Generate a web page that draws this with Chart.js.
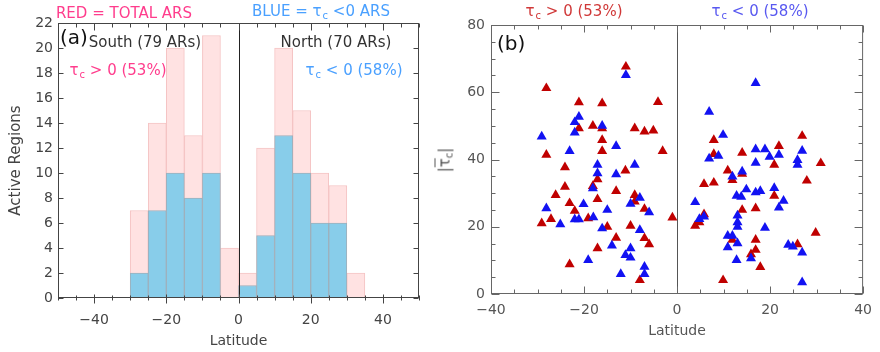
<!DOCTYPE html>
<html lang="en">
<head>
<meta charset="UTF-8">
<title>Twist of active regions vs latitude</title>
<script src="https://cdn.jsdelivr.net/npm/chart.js"></script>
<style>
    body {
        margin: 0;
        background: #ffffff;
        font-family: 'DejaVu Sans', sans-serif;
    }
    .wrap {
        position: relative;
        width: 880px;
        height: 352px;
    }
    canvas {
        position: absolute;
        top: 0;
    }
    #histChart { left: 0; }
    #scatterChart { left: 440px; }
    .note {
        position: absolute;
        white-space: nowrap;
        font-size: 15px;
        line-height: 18px;
        color: #333;
        transform: translate(-50%, -50%);
    }
    .note sub {
        font-size: 10px;
        vertical-align: -3px;
        margin-left: 1px;
    }
    .tag {
        position: absolute;
        font-size: 20px;
        line-height: 22px;
        color: #111;
        transform: translateY(-50%);
    }
    .pink { color: #ff3c8c; }
    .sky { color: #4aa0ff; }
    .red { color: #d03838; }
    .blue { color: #5858f0; }
    .ytitle {
        position: absolute;
        left: 447px;
        top: 160px;
        font-size: 15px;
        line-height: 18px;
        color: #555;
        white-space: nowrap;
        transform: translate(-50%, -50%) rotate(-90deg);
    }
    .ytitle sub {
        font-size: 10px;
        vertical-align: -3px;
    }
</style>
</head>
<body>
<div class="wrap">
    <canvas id="histChart" width="440" height="352"></canvas>
    <canvas id="scatterChart" width="440" height="352"></canvas>

    <div class="note pink" style="left:124px; top:13px;">RED = TOTAL ARS</div>
    <div class="note sky" style="left:321px; top:13px;">BLUE = &tau;<sub>c</sub> &lt;0 ARS</div>
    <div class="tag" style="left:60px; top:37px;">(a)</div>
    <div class="note" style="left:145px; top:42px;">South (79 ARs)</div>
    <div class="note" style="left:336px; top:42px;">North (70 ARs)</div>
    <div class="note pink" style="left:118px; top:72px;">&tau;<sub>c</sub> &gt; 0 (53%)</div>
    <div class="note sky" style="left:354px; top:72px;">&tau;<sub>c</sub> &lt; 0 (58%)</div>

    <div class="note red" style="left:574px; top:13px;">&tau;<sub>c</sub> &gt; 0 (53%)</div>
    <div class="note blue" style="left:760px; top:13px;">&tau;<sub>c</sub> &lt; 0 (58%)</div>
    <div class="tag" style="left:497px; top:43px;">(b)</div>
    <div class="ytitle">|<span style="text-decoration: overline;">&tau;</span><sub>c</sub>|</div>
</div>

<script>
    // (a) histogram, 5 degree bins
    const binCenters = [-27.5, -22.5, -17.5, -12.5, -7.5, -2.5, 2.5, 7.5, 12.5, 17.5, 22.5, 27.5, 32.5];
    const totalCounts = [7, 14, 20, 13, 21, 4, 2, 12, 20, 15, 10, 9, 2];
    const negTwistCounts = [2, 7, 10, 8, 10, 0, 1, 5, 13, 10, 6, 6, 0];
    const histXTicks = [-40, -20, 0, 20, 40];
    const histYTicks = [0, 2, 4, 6, 8, 10, 12, 14, 16, 18, 20, 22];

    // (b) |tau_c| per active region
    const posTwistLat = [-11.0, -28.1, -21.1, -16.1, -4.1, -21.1, -18.1, -16.1, -9.1, -7.0,
        -5.1, -16.1, -28.1, -16.1, -3.1, -24.1, -11.1, -17.1, -24.1, -18.1,
        -13.1, -26.1, -9.1, -23.1, -17.1, -9.1, -22.0, -7.0, -1.0, -29.1,
        -27.1, -19.1, -15.0, -10.0, -13.1, -7.0, -6.0, -17.1, -23.1, -8.0,
        7.9, 26.9, 7.9, 14.0, 21.9, 20.9, 30.9, 10.9, 11.9, 14.0,
        5.8, 7.9, 27.9, 20.9, 16.9, 14.0, 5.8, 3.9, 4.8, 11.9,
        16.9, 16.9, 15.9, 25.9, 29.8, 17.9, 9.9];
    const posTwistVal = [67.6, 61.2, 57.0, 56.7, 57.1, 49.3, 50.0, 49.3, 49.3, 48.3,
        48.6, 45.8, 41.4, 42.5, 42.5, 37.7, 36.7, 34.1, 31.9, 32.1,
        30.6, 29.4, 29.4, 27.0, 28.2, 27.5, 24.7, 25.3, 22.7, 21.0,
        22.3, 22.5, 20.0, 20.3, 16.7, 16.6, 14.8, 13.6, 8.8, 4.1,
        45.8, 47.0, 41.6, 42.0, 44.0, 38.4, 38.9, 36.7, 33.9, 35.7,
        32.7, 33.1, 33.7, 29.2, 25.5, 25.0, 23.7, 20.3, 21.3, 16.1,
        16.1, 13.1, 11.8, 14.8, 18.2, 8.0, 4.1];
    const negTwistLat = [-11.0, -21.1, -22.0, -16.1, -29.1, -22.0, -23.1, -13.1, -17.1, -17.1,
        -9.1, -13.1, -18.1, -8.0, -10.0, -28.1, -20.1, -15.0, -6.0, -25.1,
        -22.0, -21.1, -18.0, -16.1, -8.0, -14.0, -10.0, -11.1, -10.0, -19.1,
        -7.0, -7.0, -12.1,
        16.9, 6.9, 9.9, 6.9, 8.9, 16.9, 18.9, 19.9, 21.9, 26.9,
        25.9, 25.9, 16.9, 14.0, 11.9, 14.9, 16.9, 17.9, 20.9, 12.8,
        13.8, 3.9, 22.9, 21.9, 4.8, 5.8, 13.0, 13.0, 13.0, 18.9,
        10.9, 11.9, 13.0, 10.9, 23.9, 24.9, 26.9, 12.8, 15.9, 26.9];
    const negTwistVal = [65.1, 52.7, 51.1, 50.0, 46.8, 48.0, 42.5, 44.0, 38.4, 35.9,
        38.4, 35.6, 31.4, 28.6, 26.8, 25.5, 26.7, 25.0, 24.3, 20.7,
        22.2, 22.2, 22.8, 19.5, 19.0, 14.4, 13.6, 11.6, 10.8, 10.1,
        8.1, 5.9, 5.9,
        62.7, 54.2, 47.3, 40.3, 41.1, 43.0, 43.0, 40.8, 41.4, 42.6,
        39.8, 38.4, 39.0, 36.4, 34.9, 31.1, 30.2, 30.6, 31.5, 29.2,
        28.9, 27.3, 27.7, 25.7, 22.3, 23.0, 23.3, 21.3, 20.0, 19.7,
        17.3, 17.3, 15.1, 13.9, 14.6, 14.1, 12.3, 10.1, 10.6, 3.5];
    const scatterXTicks = [-40, -20, 0, 20, 40];
    const scatterYTicks = [0, 20, 40, 60, 80];

    const minusSign = v => String(v).replace('-', '\u2212');

    // box round the plot with inward ticks and the line at latitude 0
    function axesFrame(cfg) {
        return {
            id: 'axesFrame',
            afterDatasetsDraw(chart) {
                const { ctx, chartArea: a, scales: { x, y } } = chart;
                const L = a.left + 0.5, R = a.right - 0.5, T = a.top + 0.5, B = a.bottom - 0.5;
                ctx.save();
                ctx.lineWidth = 1;

                ctx.strokeStyle = cfg.zeroColor;
                const zx = Math.round(x.getPixelForValue(0)) + 0.5;
                ctx.beginPath();
                ctx.moveTo(zx, T);
                ctx.lineTo(zx, B);
                ctx.stroke();

                ctx.strokeStyle = cfg.color;
                ctx.strokeRect(L, T, R - L, B - T);
                ctx.beginPath();
                for (let v = x.min; v <= x.max; v += cfg.xStep) {
                    const px = Math.round(x.getPixelForValue(v)) + 0.5;
                    const major = v % cfg.xMajor === 0;
                    const len = major ? cfg.xMajorLen : cfg.xMinorLen;
                    ctx.moveTo(px, T);
                    ctx.lineTo(px, T + len);
                    ctx.moveTo(px, B - (major ? cfg.bottomInMajor : cfg.bottomInMinor));
                    ctx.lineTo(px, B + (major ? cfg.bottomOutMajor : cfg.bottomOutMinor));
                }
                for (let v = y.min; v <= y.max; v += cfg.yStep) {
                    const py = Math.round(y.getPixelForValue(v)) + 0.5;
                    const major = v % cfg.yMajor === 0;
                    const len = major ? cfg.yMajorLen : cfg.yMinorLen;
                    ctx.moveTo(L, py);
                    ctx.lineTo(L + len, py);
                    ctx.moveTo(R, py);
                    ctx.lineTo(R - len, py);
                }
                ctx.stroke();
                ctx.restore();
            }
        };
    }

    new Chart(document.getElementById('histChart'), {
        type: 'bar',
        data: {
            datasets: [
                {
                    label: 'tau_c < 0 ARs',
                    data: binCenters.map((c, i) => ({ x: c, y: negTwistCounts[i] })),
                    backgroundColor: '#88cdea',
                    borderColor: '#9eb0bc',
                    borderWidth: 1,
                    grouped: false,
                    barPercentage: 1,
                    categoryPercentage: 1,
                    order: 0
                },
                {
                    label: 'Total ARs',
                    data: binCenters.map((c, i) => ({ x: c, y: totalCounts[i] })),
                    backgroundColor: '#ffe2e2',
                    borderColor: '#f5c4c4',
                    borderWidth: 1,
                    grouped: false,
                    barPercentage: 1,
                    categoryPercentage: 1,
                    order: 1
                }
            ]
        },
        options: {
            responsive: false,
            animation: false,
            layout: { padding: { left: 0, top: 23, right: 21, bottom: 0 } },
            plugins: { legend: { display: false }, tooltip: { enabled: false } },
            scales: {
                x: {
                    type: 'linear',
                    min: -50,
                    max: 50,
                    offset: false,
                    grid: { display: false, drawTicks: false },
                    border: { display: false },
                    afterBuildTicks: s => { s.ticks = histXTicks.map(v => ({ value: v })); },
                    afterFit: s => { s.height = 54; },
                    ticks: { color: '#444', font: { family: 'DejaVu Sans', size: 14 }, padding: 14, maxRotation: 0, autoSkip: false, callback: minusSign },
                    title: { display: true, text: 'Latitude', color: '#444', font: { family: 'DejaVu Sans', size: 14 }, padding: { top: 0, bottom: 2 } }
                },
                y: {
                    min: 0,
                    max: 22,
                    grid: { display: false, drawTicks: false },
                    border: { display: false },
                    afterBuildTicks: s => { s.ticks = histYTicks.map(v => ({ value: v })); },
                    afterFit: s => { s.width = 58; },
                    ticks: { color: '#444', font: { family: 'DejaVu Sans', size: 14 }, padding: 5, autoSkip: false },
                    title: { display: true, text: 'Active Regions', color: '#444', font: { family: 'DejaVu Sans', size: 15 }, padding: { top: 7, bottom: 0 } }
                }
            }
        },
        plugins: [axesFrame({
            color: '#444', zeroColor: '#222',
            xStep: 5, xMajor: 20, xMinorLen: 4, xMajorLen: 7,
            bottomInMinor: 2, bottomInMajor: 3, bottomOutMinor: 3, bottomOutMajor: 6,
            yStep: 2, yMajor: 2, yMinorLen: 5, yMajorLen: 5
        })]
    });

    new Chart(document.getElementById('scatterChart'), {
        type: 'scatter',
        data: {
            datasets: [
                {
                    label: 'tau_c < 0',
                    data: negTwistLat.map((lat, i) => ({ x: lat, y: negTwistVal[i] })),
                    backgroundColor: '#1212f2',
                    borderWidth: 0,
                    pointStyle: 'triangle',
                    pointRadius: 5.8,
                    order: 0
                },
                {
                    label: 'tau_c > 0',
                    data: posTwistLat.map((lat, i) => ({ x: lat, y: posTwistVal[i] })),
                    backgroundColor: '#c00000',
                    borderWidth: 0,
                    pointStyle: 'triangle',
                    pointRadius: 5.8,
                    order: 1
                }
            ]
        },
        options: {
            responsive: false,
            animation: false,
            layout: { padding: { left: 0, top: 25, right: 9, bottom: 0 } },
            plugins: { legend: { display: false }, tooltip: { enabled: false } },
            scales: {
                x: {
                    type: 'linear',
                    min: -40,
                    max: 40,
                    grid: { display: false, drawTicks: false },
                    border: { display: false },
                    afterBuildTicks: s => { s.ticks = scatterXTicks.map(v => ({ value: v })); },
                    afterFit: s => { s.height = 58; },
                    ticks: { color: '#555', font: { family: 'DejaVu Sans', size: 14 }, padding: 8, maxRotation: 0, autoSkip: false, callback: minusSign },
                    title: { display: true, text: 'Latitude', color: '#555', font: { family: 'DejaVu Sans', size: 14 }, padding: { top: 0, bottom: 12 } }
                },
                y: {
                    min: 0,
                    max: 80,
                    grid: { display: false, drawTicks: false },
                    border: { display: false },
                    afterBuildTicks: s => { s.ticks = scatterYTicks.map(v => ({ value: v })); },
                    afterFit: s => { s.width = 51; },
                    ticks: { color: '#555', font: { family: 'DejaVu Sans', size: 14 }, padding: 6, autoSkip: false }
                }
            }
        },
        plugins: [axesFrame({
            color: '#666', zeroColor: '#555',
            xStep: 5, xMajor: 20, xMinorLen: 4, xMajorLen: 7,
            bottomInMinor: 4, bottomInMajor: 7, bottomOutMinor: 0, bottomOutMajor: 0,
            yStep: 5, yMajor: 20, yMinorLen: 4, yMajorLen: 8
        })]
    });
</script>
</body>
</html>
